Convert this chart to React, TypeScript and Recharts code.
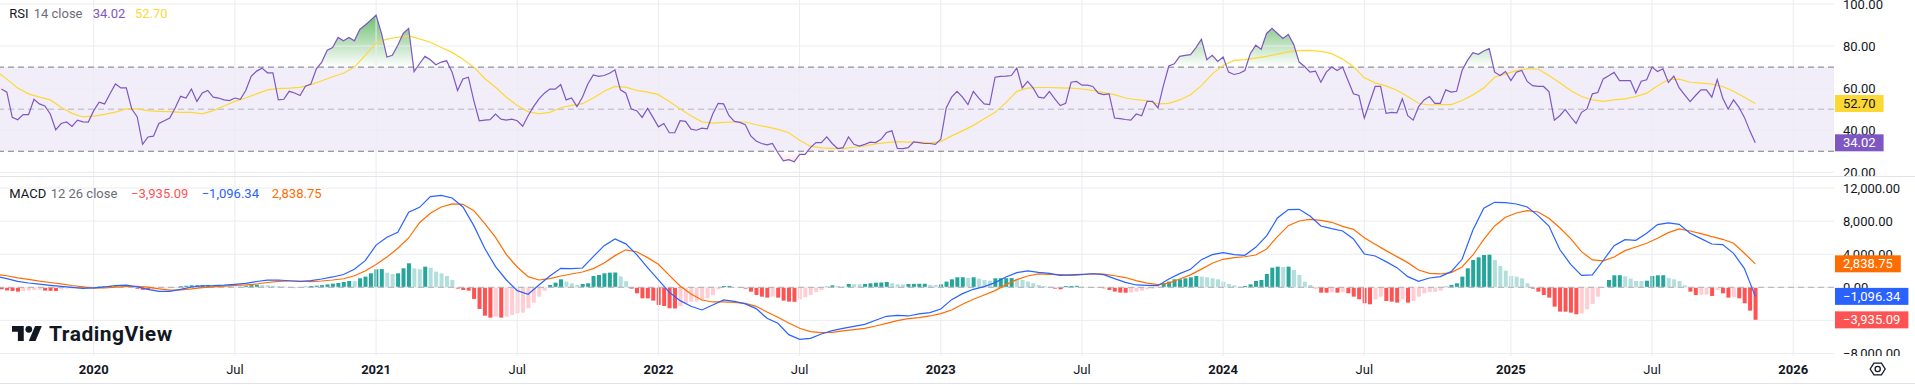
import React from 'react';
import { ComposedChart, Line, Area, Bar, Cell, XAxis, YAxis, ReferenceLine, ReferenceArea } from 'recharts';

const FONT = "Roboto, 'Noto Sans', 'DejaVu Sans', sans-serif";
const TEXT = '#131722';
const GRID = '#ececef';
const SEP = '#e0e3eb';

const W = 1915;
const H = 385;
const RSI_H = 176;
const MACD_H = 209;
const MACD_PLOT_H = 180;
const AXIS_W = 81;
const X_DOMAIN: [number, number] = [-0.26, 337.5];
const RSI_DOMAIN: [number, number] = [18.24, 101.9];
const MACD_DOMAIN: [number, number] = [-8302, 13451];

// x = week index, index 0 = weekly bar of 2019-09-09
const TIME_TICKS = [17, 43, 69, 95, 121, 147, 173, 199, 225, 251, 278, 304, 330];
const TIME_LABELS = ['2020', 'Jul', '2021', 'Jul', '2022', 'Jul', '2023', 'Jul', '2024', 'Jul', '2025', 'Jul', '2026'];

const RSI_TICKS = [20, 40, 60, 80, 100];
const MACD_TICKS = [-8000, -4000, 0, 4000, 8000, 12000];

// RSI(14) weekly values
const RSI_VALUES = [
  59.6, 58.1, 46.1, 45.0, 47.4, 47.4, 54.7, 52.5, 51.5, 47.7,
  40.2, 43.2, 43.9, 41.8, 44.8, 44.0, 43.9, 49.3, 53.3, 52.5,
  57.3, 62.0, 60.1, 60.1, 50.1, 46.4, 33.3, 36.8, 37.2, 43.2,
  44.5, 45.8, 50.6, 56.1, 55.3, 59.6, 53.7, 57.7, 58.9, 55.7,
  55.3, 54.4, 54.1, 55.3, 54.7, 58.9, 65.6, 68.1, 69.5, 67.3,
  67.3, 54.4, 54.7, 58.5, 57.7, 56.5, 60.9, 62.0, 69.2, 72.4,
  78.0, 79.3, 84.1, 82.5, 84.1, 82.5, 87.9, 90.0, 92.3, 94.7,
  86.0, 74.8, 75.6, 80.4, 86.0, 88.4, 67.9, 71.6, 75.1, 73.5,
  71.1, 72.4, 73.0, 67.6, 58.9, 64.4, 65.2, 54.1, 44.5, 44.8,
  45.0, 47.7, 45.3, 44.8, 45.3, 44.5, 41.9, 46.9, 51.2, 54.9,
  57.6, 59.6, 59.5, 61.7, 54.4, 55.3, 51.2, 55.7, 62.0, 66.3,
  65.6, 66.0, 67.1, 68.7, 59.2, 57.6, 50.1, 49.3, 46.1, 50.4,
  46.1, 41.6, 43.2, 38.8, 38.8, 44.5, 44.2, 40.5, 40.0, 41.0,
  40.7, 47.7, 52.8, 52.5, 46.9, 44.2, 43.7, 42.6, 37.3, 34.9,
  33.7, 33.0, 33.7, 29.3, 25.4, 26.0, 25.0, 28.5, 28.5, 31.7,
  34.1, 34.1, 36.8, 33.7, 31.3, 31.7, 36.8, 33.3, 32.5, 33.3,
  34.3, 34.1, 35.7, 38.9, 39.7, 31.4, 31.3, 31.7, 34.4, 34.1,
  33.7, 33.7, 33.3, 35.7, 50.6, 55.7, 58.5, 55.7, 52.2, 58.5,
  55.3, 52.5, 52.2, 65.2, 65.6, 65.7, 66.0, 69.5, 60.1, 63.2,
  60.1, 55.7, 55.3, 58.4, 54.9, 51.7, 52.8, 62.8, 63.2, 61.4,
  61.4, 60.8, 57.6, 56.9, 57.3, 45.8, 45.5, 45.1, 44.8, 47.7,
  46.9, 53.7, 53.7, 50.6, 61.2, 70.5, 71.6, 75.1, 75.6, 75.9,
  79.3, 83.3, 73.5, 75.6, 72.7, 74.8, 67.6, 66.5, 67.1, 68.4,
  76.4, 80.4, 78.5, 86.0, 88.4, 86.0, 83.6, 85.5, 80.7, 72.4,
  70.3, 67.6, 68.1, 62.8, 67.6, 70.0, 68.4, 70.0, 63.6, 57.3,
  56.5, 45.8, 53.3, 60.8, 60.8, 48.0, 48.5, 48.3, 54.9, 46.9,
  44.8, 51.2, 54.4, 56.0, 52.8, 52.8, 59.2, 58.1, 58.5, 68.4,
  73.2, 76.9, 76.1, 77.7, 78.8, 67.6, 66.0, 67.9, 63.6, 67.6,
  68.4, 63.2, 61.2, 60.8, 60.8, 58.4, 44.8, 46.9, 49.9, 46.4,
  43.2, 48.5, 50.1, 57.3, 57.9, 64.4, 65.9, 67.5, 63.6, 63.6,
  63.6, 57.7, 63.3, 64.0, 70.0, 67.9, 69.2, 62.7, 65.7, 60.1,
  56.8, 53.6, 56.5, 59.2, 59.2, 55.7, 64.1, 55.3, 50.1, 54.4,
  50.9, 46.1, 39.7, 34.02,
];

// RSI moving average, read every second week (week index -1, 1, 3, ... 323)
const RSI_MA_VALUES = [
  68.1,
  64.3, 60.1, 57.3, 55.7, 54.4, 50.9, 48.0, 46.3, 46.7, 47.5,
  48.6, 50.1, 50.1, 49.3, 49.0, 48.8, 48.5, 48.5, 47.8, 49.3,
  51.5, 53.7, 55.3, 57.3, 59.2, 59.8, 60.0, 60.4, 61.7, 63.5,
  65.4, 67.1, 70.0, 75.6, 81.5, 83.3, 84.2, 84.8, 83.4, 81.8,
  79.3, 77.0, 73.7, 70.0, 64.6, 60.4, 55.7, 51.8, 48.8, 47.8,
  48.5, 50.7, 51.8, 52.6, 55.3, 58.5, 60.8, 60.5, 58.9, 58.1,
  56.9, 53.6, 50.1, 46.9, 44.0, 43.4, 43.7, 43.9, 43.9, 42.6,
  41.6, 40.4, 38.8, 35.2, 32.4, 31.6, 31.4, 31.3, 31.9, 32.5,
  33.5, 34.1, 34.6, 34.3, 34.3, 34.0, 34.6, 37.3, 39.7, 42.3,
  45.5, 48.5, 53.1, 58.5, 60.0, 60.3, 60.3, 60.1, 60.0, 59.6,
  58.9, 57.9, 56.9, 55.3, 54.5, 54.1, 52.5, 52.8, 54.4, 56.9,
  61.2, 66.8, 70.8, 73.2, 73.6, 74.3, 75.1, 76.2, 77.2, 77.8,
  78.0, 77.5, 76.4, 73.8, 70.2, 64.9, 62.5, 61.1, 59.0, 56.0,
  52.8, 52.0, 52.2, 52.2, 54.1, 56.8, 60.1, 65.2, 66.8, 68.3,
  69.2, 69.1, 66.0, 62.6, 58.9, 56.0, 54.4, 53.7, 54.4, 54.9,
  56.0, 57.6, 61.1, 64.1, 64.3, 62.8, 62.4, 61.9, 60.8, 58.5,
  55.7, 52.70,
];

// MACD line, read every second week (week index -1, 1, 3, ... 323)
const MACD_VALUES = [
  1350,
  1050, 720, 520, 380, 240, 120, 0, -120, -60, 40,
  220, 260, 60, -260, -480, -480, -250, 40, 180, 200,
  260, 360, 480, 700, 860, 880, 790, 700, 800, 1000,
  1250, 1550, 2175, 3222, 5100, 6042, 6646, 9063, 9667, 10956,
  11117, 10795, 9707, 7452, 4713, 2497, 886, -403, -846, 282,
  1370, 2296, 2256, 2336, 3706, 5035, 5841, 5250, 3950, 2376,
  886, -604, -1611, -2296, -2739, -2135, -1531, -1692, -2000, -2578,
  -3746, -4350, -5720, -6284, -6163, -5639, -5236, -4954, -4713, -4471,
  -3988, -3504, -3384, -3464, -3222, -3061, -2618, -1490, -765, -242,
  81, 564, 1249, 1772, 1974, 1813, 1692, 1450, 1500, 1571,
  1640, 1531, 1047, 600, 282, 242, 200, 1000, 1651, 2175,
  3343, 3947, 4189, 3947, 3870, 4834, 6203, 8378, 9385, 9426,
  8620, 7412, 7089, 6807, 5841, 4028, 3786, 3102, 2376, 1289,
  725, 1128, 1289, 1893, 3384, 6928, 9547, 10271, 10231, 10070,
  9707, 8660, 7400, 4570, 2779, 1450, 1490, 3240, 5035, 5760,
  5680, 6525, 7573, 7774, 7613, 6525, 5881, 5236, 5156, 4109,
  2256, -1096.34,
];

// Signal line, same weeks as MACD_VALUES
const SIGNAL_VALUES = [
  1550,
  1400, 1150, 950, 740, 580, 420, 220, 60, -100, -60,
  30, 100, 120, 20, -200, -330, -320, -190, -30, 60,
  140, 240, 290, 400, 580, 720, 760, 760, 680, 760,
  880, 1030, 1400, 1974, 2750, 3650, 4713, 5961, 7800, 8942,
  9707, 10070, 10030, 9264, 7734, 6042, 3947, 2457, 1289, 886,
  1047, 1370, 1611, 1853, 2256, 2940, 3827, 4530, 4300, 3585,
  2779, 1450, 161, -806, -1531, -1772, -1772, -1813, -1950, -2296,
  -2981, -3625, -4310, -4954, -5357, -5478, -5438, -5277, -5116, -4954,
  -4672, -4350, -4028, -3786, -3665, -3464, -3182, -2739, -2054, -1450,
  -926, -403, 322, 926, 1370, 1611, 1571, 1530, 1450, 1520,
  1660, 1600, 1400, 1180, 800, 500, 330, 500, 1000, 1500,
  2200, 2900, 3384, 3585, 3690, 3907, 4632, 6123, 7452, 8016,
  8217, 8096, 7855, 7371, 7009, 6002, 5196, 4431, 3706, 2981,
  2095, 1692, 1611, 1772, 2457, 3907, 5800, 7412, 8459, 8982,
  9264, 9104, 8340, 7190, 5881, 4310, 3303, 3200, 3665, 4431,
  4874, 5317, 5921, 6606, 7049, 6807, 6485, 6123, 5800, 5317,
  4109, 2838.75,
];

// MACD histogram, weekly
const HIST_VALUES = [
  -240, -400, -440, -520, -440, -380, -330, -300, -400, -420,
  -440, -250, -160, -150, -120, -80, -40, 20, 80, 130,
  180, 200, 150, 70, -50, -180, -300, -330, -260, -200,
  -150, -80, 40, 130, 190, 240, 250, 260, 270, 260,
  210, 170, 130, 120, 110, 180, 260, 300, 270, 240,
  200, 140, 90, 50, -90, -30, 80, 160, 200, 260,
  350, 440, 520, 640, 765, 740, 1088, 1289, 1692, 2175,
  2200, 1772, 1611, 1692, 2296, 2900, 2296, 2175, 2497, 2376,
  1893, 1692, 1370, 886, -161, -322, -403, -1410, -2618, -3424,
  -3665, -3545, -3665, -3545, -3343, -3142, -3061, -2538, -1853, -1128,
  -403, 282, 564, 967, 685, 483, 282, 403, 483, 1370,
  1490, 1692, 1772, 1790, 1330, 740, -161, -725, -1329, -1340,
  -1611, -2135, -2256, -2538, -2560, -2256, -1933, -1732, -1720, -1531,
  -1329, -967, -242, 161, 170, 40, -80, -160, -524, -926,
  -1128, -1249, -1128, -1249, -1611, -1732, -1750, -1450, -1208, -926,
  -564, -322, 80, 240, 160, 80, 403, 380, 370, 400,
  480, 560, 580, 640, 480, 360, 350, 400, 410, 420,
  430, 300, 290, 360, 685, 967, 1208, 1215, 1150, 1208,
  1047, 886, 806, 1088, 1095, 1100, 1110, 960, 886, 685,
  483, 282, 160, 80, -160, -240, 160, 170, 180, 80,
  40, -40, -80, -120, -320, -520, -640, -650, -620, -520,
  -400, -240, -160, -80, 480, 685, 967, 970, 1088, 1208,
  1370, 1290, 1208, 1088, 967, 685, 400, 240, 100, 160,
  360, 765, 886, 1611, 2376, 2497, 2450, 2497, 2095, 1490,
  685, 282, -120, -644, -650, -600, -644, -600, -725, -1128,
  -1450, -1933, -2054, -1450, -1128, -1652, -1732, -1853, -1450, -1853,
  -1652, -1128, -725, -564, -550, -403, 80, 282, 483, 1289,
  2296, 3303, 3625, 3907, 4028, 3303, 2578, 2014, 1370, 1289,
  1088, 483, -161, -524, -926, -1249, -2336, -2940, -2950, -3061,
  -3263, -3142, -2659, -2014, -1128, 40, 886, 1450, 1460, 1329,
  1047, 765, 760, 800, 1370, 1450, 1460, 1128, 967, 765,
  240, -524, -926, -900, -880, -1047, -322, -725, -1249, -1208,
  -1329, -1933, -2820, -3935.09,
];

const rsiData = RSI_VALUES.map((v, i) => ({ i, rsi: v }));
const maData = RSI_MA_VALUES.map((v, k) => ({ i: 2 * k - 1, ma: v }));
const macdData = MACD_VALUES.map((v, k) => ({ i: 2 * k - 1, macd: v, signal: SIGNAL_VALUES[k] }));
const histData = HIST_VALUES.map((v, i) => ({ i, h: v }));

function last(a: number[]): number {
  return a[a.length - 1];
}

function fmt(v: number): string {
  const s = Math.abs(v).toFixed(2);
  const parts = s.split('.');
  const intPart = parts[0].replace(/\B(?=(\d{3})+(?!\d))/g, ',');
  return (v < 0 ? '\u2212' : '') + intPart + '.' + parts[1];
}

function textW(s: string): number {
  let w = 0;
  for (const ch of s) w += ch === ',' ? 2.6 : ch === '.' ? 3.4 : ch === '\u2212' ? 7.6 : 7.3;
  return w;
}

function histColor(v: number, prev: number): string {
  if (v >= 0) return v > prev ? '#26A69A' : '#B2DFDB';
  return v < prev ? '#FF5252' : '#FFCDD2';
}

type Badge = { value: number; bg: string; fg: string };

const RSI_BADGES: Badge[] = [
  { value: last(RSI_MA_VALUES), bg: '#FDD835', fg: TEXT },
  { value: last(RSI_VALUES), bg: '#7E57C2', fg: '#FFFFFF' },
];
const MACD_BADGES: Badge[] = [
  { value: last(SIGNAL_VALUES), bg: '#FF6D00', fg: '#FFFFFF' },
  { value: last(MACD_VALUES), bg: '#2962FF', fg: '#FFFFFF' },
  { value: last(HIST_VALUES), bg: '#FF5252', fg: '#FFFFFF' },
];

function makePriceTick(badges: Badge[], clipId?: string) {
  return function PriceTick(props: any) {
    const { x, y, payload } = props;
    const v = payload.value as number;
    const label = fmt(v);
    const b = badges.find((bb) => Math.abs(bb.value - v) < 1e-9);
    if (b) {
      return (
        <g>
          <rect x={x + 1} y={y - 8.5} width={textW(label) + 16} height={17} fill={b.bg} />
          <text x={x + 9} y={y} dy="0.35em" fill={b.fg} fontSize={13} fontFamily={FONT}>
            {label}
          </text>
        </g>
      );
    }
    return (
      <g clipPath={clipId ? `url(#${clipId})` : undefined}>
        <text x={x + 9} y={y} dy="0.35em" fill={TEXT} fontSize={13} fontFamily={FONT}>
          {label}
        </text>
      </g>
    );
  };
}

function TimeTick(props: any) {
  const { x, y, payload } = props;
  const idx = TIME_TICKS.indexOf(payload.value);
  const label = idx >= 0 ? TIME_LABELS[idx] : '';
  const isYear = /^\d{4}$/.test(label);
  return (
    <text x={x} y={y + 13.3} dy="0.35em" textAnchor="middle" fill={TEXT} fontSize={13} fontWeight={isYear ? 700 : 400} fontFamily={FONT}>
      {label}
    </text>
  );
}

const rsiTick = makePriceTick(RSI_BADGES);
const macdTick = makePriceTick(MACD_BADGES, 'macdAxisClip');

function yRsi(v: number): number {
  return ((RSI_DOMAIN[1] - v) / (RSI_DOMAIN[1] - RSI_DOMAIN[0])) * RSI_H;
}

function RsiChart() {
  return (
    <ComposedChart width={W} height={RSI_H} data={rsiData} margin={{ top: 0, right: 0, bottom: 0, left: 0 }}>
      <defs>
        <linearGradient id="rsiOb" gradientUnits="userSpaceOnUse" x1="0" y1={yRsi(100)} x2="0" y2={yRsi(70)}>
          <stop offset="0" stopColor="#4CAF50" stopOpacity={1} />
          <stop offset="1" stopColor="#4CAF50" stopOpacity={0} />
        </linearGradient>
        <linearGradient id="rsiOs" gradientUnits="userSpaceOnUse" x1="0" y1={yRsi(30)} x2="0" y2={yRsi(0)}>
          <stop offset="0" stopColor="#FF5252" stopOpacity={0} />
          <stop offset="1" stopColor="#FF5252" stopOpacity={1} />
        </linearGradient>
      </defs>
      <XAxis type="number" dataKey="i" domain={X_DOMAIN} allowDataOverflow hide />
      <YAxis
        orientation="right"
        width={AXIS_W}
        type="number"
        domain={RSI_DOMAIN}
        allowDataOverflow
        ticks={[...RSI_TICKS, ...RSI_BADGES.map((b) => b.value)]}
        interval={0}
        axisLine={false}
        tickLine={false}
        tickSize={0}
        tickMargin={0}
        tick={rsiTick}
      />
      <ReferenceArea y1={30} y2={70} fill="#7E57C2" fillOpacity={0.1} stroke="none" />
      {RSI_TICKS.map((t) => (
        <ReferenceLine key={'h' + t} y={t} stroke={GRID} strokeWidth={1} />
      ))}
      {TIME_TICKS.map((t) => (
        <ReferenceLine key={'v' + t} x={t} stroke={GRID} strokeWidth={1} />
      ))}
      <ReferenceLine y={70} stroke="#787B86" strokeDasharray="6 4" />
      <ReferenceLine y={30} stroke="#787B86" strokeDasharray="6 4" />
      <ReferenceLine y={50} stroke="#787B86" strokeOpacity={0.5} strokeDasharray="6 4" />
      <Area dataKey="rsi" baseValue={70} stroke="none" fill="url(#rsiOb)" fillOpacity={1} isAnimationActive={false} activeDot={false} dot={false} />
      <Area dataKey="rsi" baseValue={30} stroke="none" fill="url(#rsiOs)" fillOpacity={1} isAnimationActive={false} activeDot={false} dot={false} />
      <Line data={maData} dataKey="ma" stroke="#FDD835" strokeWidth={1.2} dot={false} activeDot={false} isAnimationActive={false} />
      <Line dataKey="rsi" stroke="#7E57C2" strokeWidth={1.2} dot={false} activeDot={false} isAnimationActive={false} />
    </ComposedChart>
  );
}

function MacdChart() {
  return (
    <ComposedChart width={W} height={MACD_H} data={histData} margin={{ top: 0, right: 0, bottom: 0, left: 0 }}>
      <defs>
        <clipPath id="macdAxisClip">
          <rect x={0} y={0} width={W} height={MACD_PLOT_H} />
        </clipPath>
      </defs>
      <XAxis
        type="number"
        dataKey="i"
        domain={X_DOMAIN}
        allowDataOverflow
        ticks={TIME_TICKS}
        interval={0}
        height={MACD_H - MACD_PLOT_H}
        axisLine={false}
        tickLine={false}
        tickSize={0}
        tickMargin={0}
        tick={TimeTick}
      />
      <YAxis
        orientation="right"
        width={AXIS_W}
        type="number"
        domain={MACD_DOMAIN}
        allowDataOverflow
        ticks={[...MACD_TICKS, ...MACD_BADGES.map((b) => b.value)]}
        interval={0}
        axisLine={false}
        tickLine={false}
        tickSize={0}
        tickMargin={0}
        tick={macdTick}
      />
      {MACD_TICKS.map((t) => (
        <ReferenceLine key={'h' + t} y={t} stroke={GRID} strokeWidth={1} />
      ))}
      {TIME_TICKS.map((t) => (
        <ReferenceLine key={'v' + t} x={t} stroke={GRID} strokeWidth={1} />
      ))}
      <ReferenceLine y={0} stroke="#787B86" strokeOpacity={0.55} strokeDasharray="6 4" />
      <Bar dataKey="h" barSize={4} isAnimationActive={false}>
        {HIST_VALUES.map((v, i) => (
          <Cell key={i} fill={histColor(v, i > 0 ? HIST_VALUES[i - 1] : 0)} />
        ))}
      </Bar>
      <Line data={macdData} dataKey="signal" stroke="#FF6D00" strokeWidth={1.2} dot={false} activeDot={false} isAnimationActive={false} />
      <Line data={macdData} dataKey="macd" stroke="#2962FF" strokeWidth={1.2} dot={false} activeDot={false} isAnimationActive={false} />
    </ComposedChart>
  );
}

function Overlay() {
  const hexR = 7.5;
  const cx = 1877.7;
  const cy = 369;
  const hex = [0, 60, 120, 180, 240, 300]
    .map((a) => {
      const r = (a * Math.PI) / 180;
      return `${cx + hexR * Math.cos(r)},${cy + hexR * Math.sin(r) * 0.9}`;
    })
    .join(' ');
  return (
    <svg width={W} height={H} style={{ position: 'absolute', left: 0, top: 0, pointerEvents: 'none' }} fontFamily={FONT}>
      <line x1={0} x2={W} y1={176.5} y2={176.5} stroke={SEP} strokeWidth={1} />
      <line x1={0} x2={W} y1={383.5} y2={383.5} stroke={SEP} strokeWidth={1} />

      <g fontSize={13}>
        <text x={9.3} y={13.3} dy="0.35em" fill={TEXT}>RSI</text>
        <text x={33.7} y={13.3} dy="0.35em" fill="#6a6d78">14 close</text>
        <text x={92.7} y={13.3} dy="0.35em" fill="#7E57C2">{fmt(last(RSI_VALUES))}</text>
        <text x={135} y={13.3} dy="0.35em" fill="#FDD835">{fmt(last(RSI_MA_VALUES))}</text>

        <text x={9.3} y={193.3} dy="0.35em" fill={TEXT}>MACD</text>
        <text x={50.7} y={193.3} dy="0.35em" fill="#6a6d78">12 26 close</text>
        <text x={131} y={193.3} dy="0.35em" fill="#FF5252">{fmt(last(HIST_VALUES))}</text>
        <text x={201.7} y={193.3} dy="0.35em" fill="#2962FF">{fmt(last(MACD_VALUES))}</text>
        <text x={271.7} y={193.3} dy="0.35em" fill="#FF6D00">{fmt(last(SIGNAL_VALUES))}</text>
      </g>

      <g transform="translate(12, 322.6) scale(0.84)" fill="#131722">
        <path d="M14 22H7V11H0V4h14v18z" />
        <circle cx={20} cy={8} r={4} />
        <path d="M28 22h-8l7.5-18h8L28 22z" />
      </g>
      <text x={49} y={340.7} fontSize={21} fontWeight={700} letterSpacing={0.5} fill="#131722">
        TradingView
      </text>

      <polygon points={hex} fill="none" stroke={TEXT} strokeWidth={1.3} />
      <circle cx={cx} cy={cy} r={2.6} fill="none" stroke={TEXT} strokeWidth={1.3} />
    </svg>
  );
}

export default function App() {
  return (
    <div style={{ position: 'absolute', left: 0, top: 0, width: W, height: H, background: '#ffffff', overflow: 'hidden', fontFamily: FONT }}>
      <style>{'#rsi-pane .recharts-surface { overflow: visible; }'}</style>
      <div id="rsi-pane" style={{ position: 'absolute', left: 0, top: 0 }}>
        <RsiChart />
      </div>
      <div style={{ position: 'absolute', left: 0, top: RSI_H }}>
        <MacdChart />
      </div>
      <Overlay />
    </div>
  );
}
